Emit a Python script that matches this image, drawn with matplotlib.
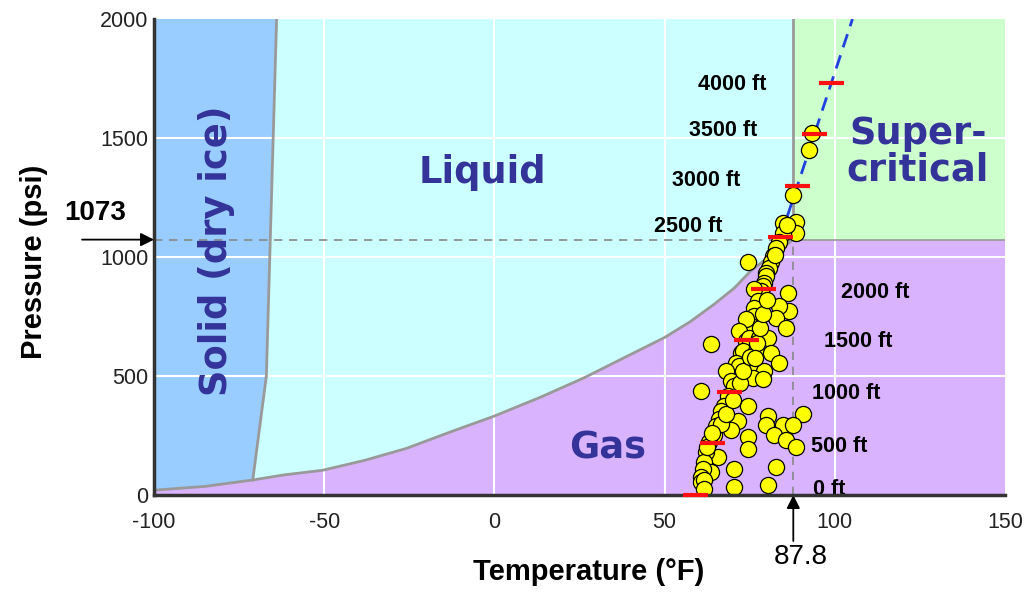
import numpy as np
import matplotlib
matplotlib.use("Agg")
import matplotlib.pyplot as plt

plt.rcParams['font.family'] = ['Liberation Sans', 'DejaVu Sans']
plt.rcParams['axes.unicode_minus'] = False

# phase boundaries of CO2 (deg F, psi)
sub_T = [-100, -85, -71]
sub_P = [20, 36, 63]
melt_T = [-71, -67, -66, -65, -64]
melt_P = [63, 500, 1000, 1500, 2000]
vap_T = [-71, -62, -50.4, -38, -25.8, -13.1, -0.3, 13.4, 26.3, 38, 49.9, 57.5, 64.6, 70.5, 75.4, 81.5, 87.8]
vap_P = [63, 84, 104, 146, 196, 264, 330, 410, 492, 576, 661, 728, 802, 870, 943, 1010, 1073]
crit_T = 87.8
crit_P = 1073

# depth markers (hydrostatic pressure / geothermal temperature)
depth_labels = ["0 ft", "500 ft", "1000 ft", "1500 ft", "2000 ft",
                "2500 ft", "3000 ft", "3500 ft", "4000 ft"]
depth_T = [59, 64, 69, 74, 79, 84, 89, 94, 99]
depth_P = [0, 217, 433, 650, 866, 1083, 1299, 1516, 1732]

# measured well points
well_T = [93.2, 92.5, 87.8,
          84.8, 88.7, 88.7, 84.8, 86.0, 83.7, 82.8,
          81.9, 81.3, 80.7, 79.8, 79.8, 79.2, 78.9, 78.4, 76.3,
          74.5,
          86.3, 86.6, 83.7, 82.8, 85.7,
          78.4, 77.5, 76.3, 76.3, 75.4, 73.9, 71.9, 73.9,
          63.6,
          74.8, 77.8, 80.4, 72.5, 73.1, 76.9, 81.3, 83.7, 71.0, 71.9, 75.4,
          68.1, 79.2, 73.3, 76.0, 78.9, 69.5, 70.4,
          60.7, 68.7,
          67.5, 74.5, 66.6, 66.0, 71.6, 65.1, 69.5, 64.5, 74.5, 74.5, 63.0,
          90.7, 80.4, 79.8, 84.8, 87.8, 82.2, 85.7, 88.7,
          65.7, 62.1, 61.6, 63.6, 61.3, 60.7, 60.7, 61.6, 61.6,
          70.4, 70.4, 82.8, 80.4,
          66.5, 68.0, 70.0, 72.0, 73.0, 75.0, 77.0, 78.0, 79.0, 80.0,
          62.5, 64.0, 82.5, 76.5]
well_P = [1522, 1450, 1260,
          1142, 1146, 1099, 1099, 1133, 1061, 1036,
          1006, 977, 955, 934, 922, 892, 880, 858, 867,
          977,
          850, 774, 795, 744, 702,
          808, 816, 786, 753, 710, 740, 689, 647,
          634,
          660, 660, 660, 596, 605, 605, 596, 554, 554, 541, 550,
          520, 520, 499, 490, 486, 478, 457,
          436, 414,
          372, 372, 351, 321, 309, 288, 275, 254, 245, 195, 224,
          342, 330, 296, 296, 296, 254, 233, 203,
          161, 182, 140, 97, 110, 76, 55, 63, 25,
          110, 34, 118, 42,
          300, 340, 400, 470, 520, 580, 640, 700, 760, 820,
          200, 260, 1010, 575]

xticks = [-100, -50, 0, 50, 100, 150]
yticks = [0, 500, 1000, 1500, 2000]
xmin, xmax = -100, 150
ymin, ymax = 0, 2000

fig = plt.figure(figsize=(10.29, 5.92), dpi=100)
ax = fig.add_axes([0.1497, 0.1639, 0.827, 0.804])
ax.set_xlim(xmin, xmax)
ax.set_ylim(ymin, ymax)

# region fills
solid_x = [xmin] + sub_T + melt_T + [xmin]
solid_y = [sub_P[0]] + sub_P + melt_P + [ymax]
ax.fill(solid_x, solid_y, color='#99CCFF', lw=0, zorder=0)

liq_x = melt_T + [crit_T, crit_T] + vap_T[::-1]
liq_y = melt_P + [ymax, crit_P] + vap_P[::-1]
ax.fill(liq_x, liq_y, color='#CCFFFF', lw=0, zorder=0)

gas_x = [xmin] + sub_T + vap_T + [xmax, xmax]
gas_y = [ymin] + sub_P + vap_P + [crit_P, ymin]
ax.fill(gas_x, gas_y, color='#DAB3FF', lw=0, zorder=0)

ax.fill([crit_T, xmax, xmax, crit_T], [crit_P, crit_P, ymax, ymax],
        color='#CCFFCC', lw=0, zorder=0)

# white grid
for t in xticks[1:-1]:
    ax.axvline(t, color='white', lw=1.5, zorder=1)
for t in yticks[1:-1]:
    ax.axhline(t, color='white', lw=1.5, zorder=1)

# boundary curves
ax.plot(sub_T + vap_T[1:], sub_P + vap_P[1:], color='#999999', lw=2, zorder=2)
ax.plot(melt_T, melt_P, color='#999999', lw=2, zorder=2)
ax.plot([crit_T, crit_T], [crit_P, ymax], color='#999999', lw=2, zorder=2)
ax.plot([crit_T, xmax], [crit_P, crit_P], color='#999999', lw=1.2, zorder=2)

# critical point guides
ax.plot([xmin, crit_T], [crit_P, crit_P], color='#888888', lw=1.2,
        ls=(0, (5, 4)), zorder=2)
ax.plot([crit_T, crit_T], [ymin, crit_P], color='#888888', lw=1.2,
        ls=(0, (5, 4)), zorder=2)

# trend line through the depth markers, from 2500 ft upward
slope, icpt = np.polyfit(depth_P, depth_T, 1)
line_P = np.array([depth_P[5], ymax])
ax.plot(slope * line_P + icpt, line_P, color='#2040E0', lw=2,
        ls=(0, (5, 3)), zorder=3)

ax.scatter(well_T, well_P, s=135, facecolor='#FFFF00', edgecolor='black',
           lw=0.9, zorder=4)

ax.plot(depth_T, depth_P, ls='none', marker='_', ms=18, mew=3,
        color='#FF1010', zorder=8, clip_on=False)

# depth labels
lab_pos = [(93.7, 25), (93.1, 203), (93.4, 427), (96.9, 643), (101.9, 850),
           (46.8, 1129), (52.1, 1323), (57.1, 1531), (59.8, 1725)]
for txt, (tx, ty) in zip(depth_labels, lab_pos):
    ax.text(tx, ty, txt, fontsize=15.5, fontweight='bold', color='black',
            ha='left', va='center', zorder=6)

# phase names
reg = dict(family='DejaVu Sans', fontsize=26.5, fontweight='bold',
           color='#333399', ha='center', va='center', zorder=6)
ax.text(-3.6, 1353, "Liquid", **reg)
ax.text(33.2, 196, "Gas", **reg)
ax.text(124.4, 1442, "Super-\ncritical", linespacing=1.0, **reg)
ax.text(-81.7, 1027, "Solid (dry ice)", rotation=90, **reg)

# critical point callouts
ax.annotate('', xy=(xmin, crit_P), xytext=(-72, 0), textcoords='offset pixels',
            arrowprops=dict(arrowstyle='-|>', color='black', lw=1.3,
                            mutation_scale=20, shrinkA=0, shrinkB=0),
            annotation_clip=False)
ax.annotate("1073", xy=(xmin, crit_P), xytext=(-59, 27),
            textcoords='offset pixels', ha='center', va='center',
            fontsize=20, fontweight='bold', annotation_clip=False)
ax.annotate('', xy=(crit_T, ymin), xytext=(0, -46), textcoords='offset pixels',
            arrowprops=dict(arrowstyle='-|>', color='black', lw=1.3,
                            mutation_scale=20, shrinkA=0, shrinkB=0),
            annotation_clip=False)
ax.annotate("87.8", xy=(crit_T, ymin), xytext=(7, -62),
            textcoords='offset pixels', ha='center', va='center',
            fontsize=20, annotation_clip=False)

# axes styling
ax.set_xticks(xticks)
ax.set_yticks(yticks)
ax.tick_params(length=0, labelsize=15.5, labelcolor='#222222')
ax.tick_params(axis='x', pad=12)
ax.tick_params(axis='y', pad=4)
for s in ['top', 'right']:
    ax.spines[s].set_visible(False)
for s in ['left', 'bottom']:
    ax.spines[s].set_color('#333333')
    ax.spines[s].set_linewidth(2.5)
    ax.spines[s].set_zorder(7)

ax.set_xlabel("Temperature (°F)", fontsize=21, fontweight='bold')
ax.xaxis.set_label_coords((589 - 154) / 851, -0.132)
ax.set_ylabel("Pressure (psi)", fontsize=21, fontweight='bold')
ax.yaxis.set_label_coords(-0.1246, 0.49)

fig.savefig("out.png", dpi=100)
